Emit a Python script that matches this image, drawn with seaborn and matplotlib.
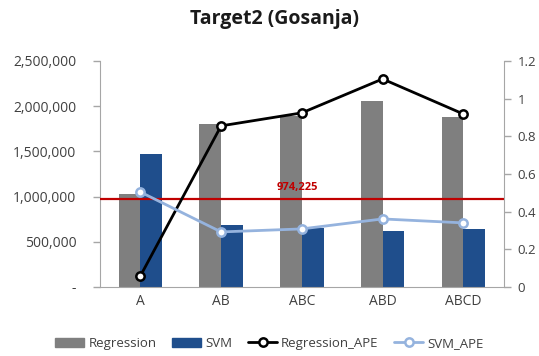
import numpy as np
import pandas as pd
import matplotlib
matplotlib.use("Agg")
import matplotlib.pyplot as plt
import matplotlib.ticker as mticker
from matplotlib.patches import Patch
from matplotlib.lines import Line2D
import seaborn as sns

# Data
categories = ["A", "AB", "ABC", "ABD", "ABCD"]
regression = [1029000, 1803000, 1892000, 2058000, 1880000]
svm = [1471000, 686000, 653000, 620000, 642000]
regression_ape = [0.058, 0.855, 0.924, 1.104, 0.918]
svm_ape = [0.504, 0.292, 0.308, 0.361, 0.340]
actual_value = 974225
title = "Target2 (Gosanja)"

sns.set_style("white")
plt.rcParams["font.family"] = ["Open Sans", "DejaVu Sans"]

c_reg = "#7F7F7F"
c_svm = "#1F4E8C"
c_reg_ape = "#000000"
c_svm_ape = "#95B3DE"
c_ref = "#C00000"
c_axis = "#A6A6A6"
c_text = "#404040"

df = pd.DataFrame({
    "category": categories * 2,
    "value": regression + svm,
    "model": ["Regression"] * len(categories) + ["SVM"] * len(categories),
})

fig = plt.figure(figsize=(5.39, 3.56), dpi=100)
ax = fig.add_axes([0.1855, 0.194, 0.749, 0.635])

sns.barplot(data=df, x="category", y="value", hue="model",
            palette=[c_reg, c_svm], width=0.54, gap=0.0, linewidth=0,
            saturation=1, legend=False, ax=ax, errorbar=None)

ax.set_ylim(0, 2500000)
ax.set_xlim(-0.5, len(categories) - 0.5)
ax.yaxis.set_major_locator(mticker.MultipleLocator(500000))
ax.yaxis.set_major_formatter(mticker.FuncFormatter(
    lambda v, p: "-" if v == 0 else f"{int(v):,}"))
ax.set_xlabel("")
ax.set_ylabel("")

# Actual value reference line
ax.axhline(actual_value, color=c_ref, lw=1.6, zorder=5)
ax.text(1.95, actual_value + 70000, f"{actual_value:,}", color=c_ref,
        fontsize=8, fontweight="bold", ha="center", va="bottom", zorder=6)

# APE lines on secondary axis
ax2 = ax.twinx()
x_pos = np.arange(len(categories))
ax2.plot(x_pos, regression_ape, color=c_reg_ape, lw=2, marker="o", ms=6,
         mfc="white", mec=c_reg_ape, mew=1.8, zorder=7)
ax2.plot(x_pos, svm_ape, color=c_svm_ape, lw=2, marker="o", ms=6,
         mfc="white", mec=c_svm_ape, mew=1.8, zorder=7)
ax2.set_ylim(0, 1.2)
ax2.yaxis.set_major_locator(mticker.MultipleLocator(0.2))
ax2.yaxis.set_major_formatter(mticker.FuncFormatter(lambda v, p: f"{v:g}"))

for a in (ax, ax2):
    for s in a.spines.values():
        s.set_visible(False)
    a.tick_params(colors=c_axis, labelcolor=c_text, labelsize=10, length=5, width=1)
ax.spines["left"].set_visible(True)
ax.spines["left"].set_color(c_axis)
ax.spines["bottom"].set_visible(True)
ax.spines["bottom"].set_color(c_axis)
ax2.spines["right"].set_visible(True)
ax2.spines["right"].set_color(c_axis)
ax.tick_params(axis="x", length=0, pad=5)
ax.tick_params(axis="y", left=True, direction="out", pad=12)
ax2.tick_params(axis="y", right=True, direction="out", pad=5, labelsize=9.5)

fig.suptitle(title, x=0.51, y=0.975, fontsize=14, fontweight="bold", color="#1A1A1A")

handles = [
    Patch(color=c_reg, label="Regression"),
    Patch(color=c_svm, label="SVM"),
    Line2D([], [], color=c_reg_ape, lw=2, marker="o", ms=6, mfc="white",
           mec=c_reg_ape, mew=1.8, label="Regression_APE"),
    Line2D([], [], color=c_svm_ape, lw=2, marker="o", ms=6, mfc="white",
           mec=c_svm_ape, mew=1.8, label="SVM_APE"),
]
fig.legend(handles=handles, loc="center", bbox_to_anchor=(0.5, 0.035), ncol=4,
           frameon=False, fontsize=9.5, handlelength=2.2, handleheight=0.7,
           columnspacing=1.2, handletextpad=0.3, labelcolor=c_text)

fig.savefig("out.png", dpi=100)
